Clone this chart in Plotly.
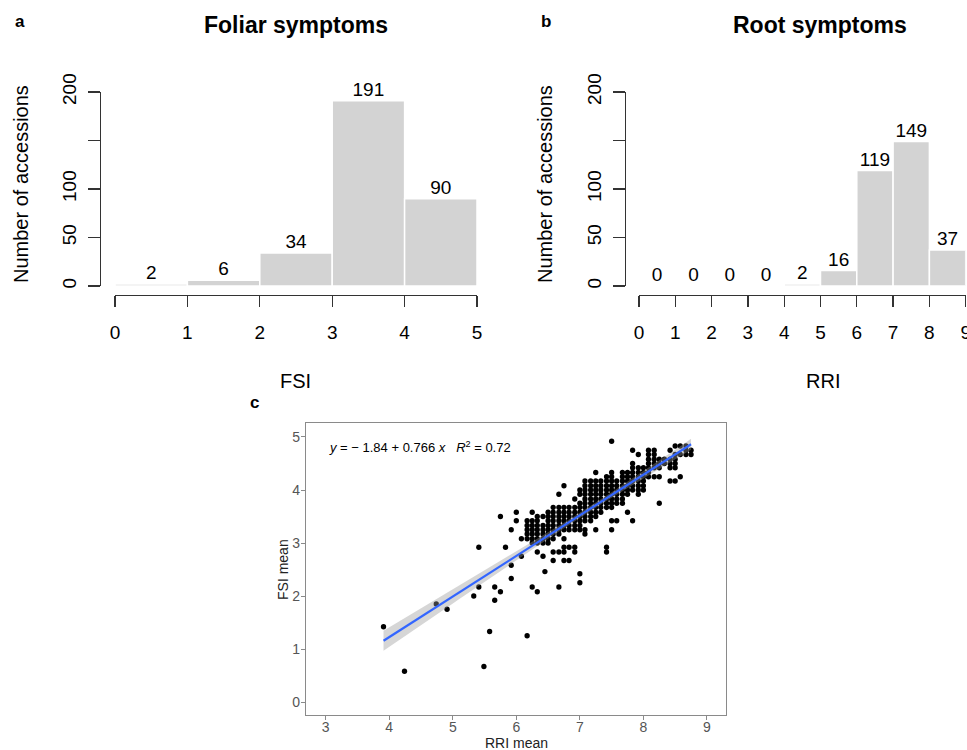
import numpy as np
import plotly.graph_objects as go

# ---------------- data ----------------
fsi_edges = [0, 1, 2, 3, 4, 5]
fsi_counts = [2, 6, 34, 191, 90]
rri_edges = [0, 1, 2, 3, 4, 5, 6, 7, 8, 9]
rri_counts = [0, 0, 0, 0, 2, 16, 119, 149, 37]
count_ticks = [0, 50, 100, 200]
count_minor_ticks = [150]

rri_mean = [
    3.91, 4.24, 4.74, 4.91, 5.33, 5.41, 5.41, 5.49, 5.58, 5.66, 5.66, 5.75,
    5.75, 5.83, 5.92, 5.92, 5.92, 6.00, 6.00, 6.08, 6.08, 6.17, 6.45,
    6.17, 6.17, 6.17, 6.17, 6.17,
    6.25, 6.25, 6.25, 6.25, 6.25, 6.25, 6.25, 6.25,
    6.33, 6.33, 6.33, 6.33, 6.33, 6.33, 6.33, 6.33, 6.33,
    6.42, 6.42, 6.42, 6.42, 6.42, 6.42, 6.42,
    6.50, 6.50, 6.50, 6.50, 6.50, 6.50, 6.50, 6.50,
    6.58, 6.58, 6.58, 6.58, 6.58, 6.58, 6.58, 6.58, 6.58, 6.58,
    6.67, 6.67, 6.67, 6.67, 6.67, 6.67, 6.67, 6.67, 6.67, 6.67,
    6.75, 6.75, 6.75, 6.75, 6.75, 6.75, 6.75, 6.75, 6.75, 6.75, 6.75,
    6.83, 6.83, 6.83, 6.83, 6.83, 6.83, 6.83, 6.83,
    6.92, 6.92, 6.92, 6.92, 6.92, 6.92, 6.92, 6.92, 6.92,
    7.00, 7.00, 7.00, 7.00, 7.00, 7.00, 7.00, 7.00, 7.00, 7.00, 7.00,
    7.08, 7.08, 7.08, 7.08, 7.08, 7.08, 7.08, 7.08, 7.08, 7.08, 7.08, 7.08,
    7.17, 7.17, 7.17, 7.17, 7.17, 7.17, 7.17, 7.17, 7.17, 7.17,
    7.25, 7.25, 7.25, 7.25, 7.25, 7.25, 7.25, 7.25, 7.25, 7.25, 7.25,
    7.33, 7.33, 7.33, 7.33, 7.33, 7.33, 7.33, 7.33,
    7.42, 7.42, 7.42, 7.42, 7.42, 7.42, 7.42, 7.42, 7.42, 7.42,
    7.50, 7.50, 7.50, 7.50, 7.50, 7.50, 7.50, 7.50, 7.50, 7.50, 7.50, 7.50,
    7.58, 7.58, 7.58, 7.58, 7.58, 7.58, 7.58,
    7.67, 7.67, 7.67, 7.67, 7.67, 7.67, 7.67, 7.67,
    7.75, 7.75, 7.75, 7.75, 7.75, 7.75, 7.75,
    7.83, 7.83, 7.83, 7.83, 7.83, 7.83, 7.83, 7.83, 7.83,
    7.92, 7.92, 7.92, 7.92, 7.92, 7.92, 7.92, 7.92,
    8.00, 8.00, 8.00, 8.00, 8.00, 8.00,
    8.08, 8.08, 8.08, 8.08, 8.08, 8.08, 8.08,
    8.17, 8.17, 8.17, 8.17, 8.17, 8.17,
    8.25, 8.25, 8.25, 8.25, 8.25,
    8.33, 8.33,
    8.42, 8.42, 8.42, 8.42, 8.42,
    8.50, 8.50, 8.50, 8.50, 8.50, 8.50,
    8.58, 8.58, 8.58,
    8.67, 8.67, 8.67,
    8.75, 8.75,
]
fsi_mean = [
    1.42, 0.58, 1.85, 1.75, 2.00, 2.92, 2.17, 0.67, 1.33, 2.17, 1.92, 3.50,
    2.08, 2.92, 3.25, 2.58, 2.33, 3.58, 3.42, 3.08, 2.75, 1.25, 2.46,
    3.08, 3.17, 3.25, 3.33, 3.42,
    3.00, 3.08, 3.17, 3.25, 3.33, 3.42, 3.58, 2.17,
    3.00, 3.08, 3.17, 3.25, 3.33, 3.42, 3.50, 2.83, 2.08,
    3.00, 3.08, 3.17, 3.25, 3.33, 3.50, 2.75,
    3.00, 3.08, 3.17, 3.25, 3.33, 3.42, 3.50, 3.58,
    3.08, 3.17, 3.25, 3.33, 3.42, 3.50, 3.58, 3.67, 2.67, 2.83,
    3.17, 3.25, 3.33, 3.42, 3.50, 3.58, 3.67, 3.92, 2.83, 2.17,
    3.08, 3.25, 3.33, 3.42, 3.50, 3.58, 3.67, 4.08, 2.92, 2.83, 2.67,
    3.25, 3.33, 3.42, 3.50, 3.58, 3.67, 2.92, 2.67,
    3.25, 3.33, 3.42, 3.50, 3.58, 3.67, 3.83, 2.92, 2.83,
    3.25, 3.33, 3.42, 3.50, 3.58, 3.67, 3.75, 3.92, 4.00, 2.42, 2.25,
    3.17, 3.25, 3.42, 3.50, 3.58, 3.67, 3.75, 3.83, 3.92, 4.00, 4.08, 4.17,
    3.42, 3.50, 3.58, 3.67, 3.75, 3.83, 3.92, 4.00, 4.08, 4.17,
    3.25, 3.50, 3.58, 3.67, 3.75, 3.83, 3.92, 4.00, 4.08, 4.17, 4.33,
    3.58, 3.67, 3.75, 3.83, 3.92, 4.00, 4.08, 4.17,
    3.67, 3.75, 3.83, 3.92, 4.00, 4.08, 4.17, 4.25, 2.92, 2.83,
    3.67, 3.75, 3.83, 3.92, 4.00, 4.08, 4.17, 4.25, 4.33, 3.42, 3.25, 4.92,
    3.75, 3.83, 3.92, 4.00, 4.08, 4.17, 3.42,
    3.75, 3.83, 3.92, 4.00, 4.08, 4.17, 4.25, 4.33,
    3.58, 3.92, 4.00, 4.08, 4.17, 4.25, 4.33,
    3.42, 4.00, 4.08, 4.17, 4.25, 4.33, 4.42, 4.50, 4.75,
    3.92, 4.00, 4.08, 4.17, 4.25, 4.33, 4.42, 4.67,
    4.00, 4.08, 4.17, 4.25, 4.33, 4.42,
    4.25, 4.33, 4.42, 4.50, 4.58, 4.67, 4.75,
    4.25, 4.42, 4.50, 4.58, 4.67, 4.75,
    3.75, 4.25, 4.42, 4.50, 4.58,
    4.50, 4.58,
    4.17, 4.42, 4.50, 4.58, 4.75,
    4.17, 4.42, 4.50, 4.58, 4.67, 4.83,
    4.25, 4.67, 4.83,
    4.67, 4.75, 4.83,
    4.67, 4.75,
]
fit_intercept = -1.84
fit_slope = 0.766
fit_r2 = 0.72

assert len(rri_mean) == len(fsi_mean), (len(rri_mean), len(fsi_mean))

# ---------------- helpers ----------------
W, H = 967, 750
def PX(v):
    return v / W
def PY(v):
    return 1 - v / H

FONT = "Liberation Sans, Arial, Helvetica, sans-serif"
BAR_FILL = "#d3d3d3"
AX = "#333333"

fig = go.Figure()

def add_hist(edges, counts, xa, ya):
    centers = [(edges[i] + edges[i + 1]) / 2 for i in range(len(counts))]
    fig.add_trace(go.Bar(x=centers, y=counts, width=1, xaxis=xa, yaxis=ya,
                         marker=dict(color=BAR_FILL, line=dict(color="white", width=1.5)),
                         hoverinfo="skip"))
    fig.add_trace(go.Scatter(x=centers, y=counts, xaxis=xa, yaxis=ya, mode="text",
                             text=[str(c) for c in counts], textposition="top center",
                             textfont=dict(family=FONT, size=19, color="black"),
                             cliponaxis=False, hoverinfo="skip"))

add_hist(fsi_edges, fsi_counts, "x", "y")
add_hist(rri_edges, rri_counts, "x2", "y2")

# scatter panel
rx = np.array(rri_mean)
fy = np.array(fsi_mean)
fig.add_trace(go.Scatter(x=rx, y=fy, mode="markers", xaxis="x3", yaxis="y3",
                         marker=dict(color="black", size=5.3), hoverinfo="skip"))

n = len(rx)
resid = fy - (fit_intercept + fit_slope * rx)
s = np.sqrt(np.sum(resid ** 2) / (n - 2))
xg = np.linspace(rx.min(), rx.max(), 80)
yg = fit_intercept + fit_slope * xg
se = s * np.sqrt(1 / n + (xg - rx.mean()) ** 2 / np.sum((rx - rx.mean()) ** 2))
upper = yg + 1.968 * se
lower = yg - 1.968 * se
fig.add_trace(go.Scatter(x=np.concatenate([xg, xg[::-1]]), y=np.concatenate([upper, lower[::-1]]),
                         fill="toself", fillcolor="rgba(153,153,153,0.4)", line=dict(width=0),
                         mode="lines", xaxis="x3", yaxis="y3", hoverinfo="skip"))
fig.add_trace(go.Scatter(x=xg, y=yg, mode="lines", line=dict(color="#3366FF", width=2.2),
                         xaxis="x3", yaxis="y3", hoverinfo="skip"))

# ---------------- axes ----------------
hist_x_common = dict(anchor="free", position=PY(295), showline=True, linecolor=AX, linewidth=1.3,
                     ticks="outside", ticklen=11, tickwidth=1.3, tickcolor=AX, showgrid=False,
                     zeroline=False, tickfont=dict(family=FONT, size=19, color="black"),
                     ticklabelstandoff=9, ticklabeloverflow="allow",
                     automargin=False, fixedrange=True)
hist_y_common = dict(range=[0, 200], domain=[PY(286), PY(92)], anchor="free", showline=True,
                     linecolor=AX, linewidth=1.3, ticks="outside", ticklen=12, tickwidth=1.3,
                     tickcolor=AX, tickvals=count_ticks, tickangle=-90,
                     minor=dict(tickvals=count_minor_ticks, ticks="outside", ticklen=12,
                                tickwidth=1.3, tickcolor=AX, showgrid=False),
                     showgrid=False, zeroline=False, tickfont=dict(family=FONT, size=19, color="black"),
                     ticklabelstandoff=4, automargin=False, fixedrange=True)

fig.update_layout(
    xaxis=dict(domain=[PX(115), PX(477)], range=[0, 5], tickvals=fsi_edges, **hist_x_common),
    yaxis=dict(position=PX(100), **hist_y_common),
    xaxis2=dict(domain=[PX(639), PX(965.7)], range=[0, 9], tickvals=rri_edges, **hist_x_common),
    yaxis2=dict(position=PX(625), **hist_y_common),
    xaxis3=dict(domain=[PX(306), PX(726)], range=[2.69, 9.30], anchor="y3", showline=True, mirror=True,
                linecolor="#8a8a8a", linewidth=1.2, ticks="outside", ticklen=4, tickcolor="#8a8a8a",
                tickvals=[3, 4, 5, 6, 7, 8, 9], showgrid=False, zeroline=False, automargin=False,
                ticklabelstandoff=-5,
                tickfont=dict(family=FONT, size=14, color="#555555")),
    yaxis3=dict(domain=[PY(715), PY(423)], range=[-0.245, 5.264], anchor="x3", showline=True, mirror=True,
                linecolor="#8a8a8a", linewidth=1.2, ticks="outside", ticklen=4, tickcolor="#8a8a8a",
                tickvals=[0, 1, 2, 3, 4, 5], showgrid=False, zeroline=False, automargin=False,
                ticklabelstandoff=-2,
                tickfont=dict(family=FONT, size=14, color="#555555")),
)

def ann(text, x, y, size, angle=0, xanchor="center", color="black"):
    return dict(text=text, x=PX(x), y=PY(y), xref="paper", yref="paper", showarrow=False,
                xanchor=xanchor, yanchor="middle", textangle=angle,
                font=dict(family=FONT, size=size, color=color))

annotations = [
    ann("<b>a</b>", 20, 21, 17),
    ann("<b>b</b>", 546, 21, 17),
    ann("<b>c</b>", 254, 402, 17),
    ann("<b>Foliar symptoms</b>", 296, 25, 23),
    ann("<b>Root symptoms</b>", 820, 25, 23),
    ann("Number of accessions", 21, 184, 20, angle=-90),
    ann("Number of accessions", 545, 184, 20, angle=-90),
    ann("FSI", 295, 381, 20),
    ann("RRI", 823, 381, 20),
    ann("FSI mean", 283, 570, 14, angle=-90, color="#222222"),
    ann("RRI mean", 516, 743, 14, color="#222222"),
    ann("<i>y</i> = \u2212 1.84 + 0.766 <i>x</i>   <i>R</i><sup>2</sup> = %.2f" % fit_r2,
        327, 447, 13, xanchor="left"),
]

fig.update_layout(
    template="none",
    width=W, height=H, margin=dict(l=0, r=0, t=0, b=0, autoexpand=False),
    paper_bgcolor="white", plot_bgcolor="white", showlegend=False,
    bargap=0, annotations=annotations, font=dict(family=FONT),
)

fig.write_html("out.html", config={"displayModeBar": False, "staticPlot": True},
               post_script="document.body.style.margin='0px';document.body.style.overflow='hidden';")
